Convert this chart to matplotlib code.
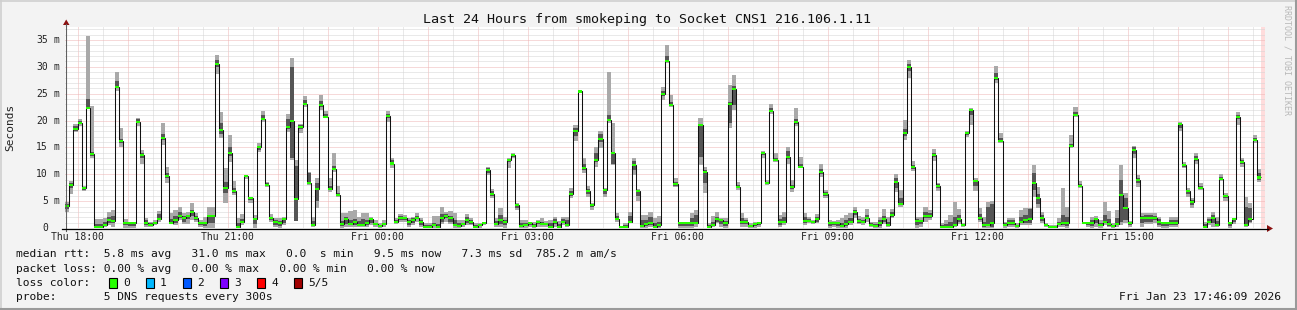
import numpy as np
import matplotlib
matplotlib.use("Agg")
import matplotlib.pyplot as plt
from matplotlib.transforms import Affine2D, blended_transform_factory
from matplotlib.lines import Line2D
from matplotlib.patches import Polygon, Rectangle

nan = np.nan

# 288 samples, 5 minutes apart, starting Thu 17:45 (hours since Thu 00:00)
start_hour = 17.75
step_hours = 5 / 60

# median rtt in ms
median = [4.1, 8.0, 18.4, 19.6, 7.4, 22.4, 13.8, 0.25, 0.2, 0.6,
          1.5, 1.3, 26.3, 16.2, 0.9, 0.9, 0.9, 19.8, 13.5, 0.9,
          0.6, 0.9, 1.6, 16.8, 9.7, 0.9, 1.5, 2.3, 1.8, 2.2,
          3.0, 1.8, 0.9, 0.9, 2.3, 2.3, 30.5, 18.2, 7.5, 14.0,
          6.8, 0.25, 1.2, 9.7, 5.6, 1.7, 15.0, 20.2, 8.0, 1.9,
          1.2, 1.0, 1.6, 18.8, 19.9, 5.4, 18.8, 23.1, 8.3, 0.6,
          7.2, 22.9, 20.7, 7.2, 11.0, 6.1, 0.7, 1.6, 0.7, 1.2,
          0.6, 0.6, 1.0, 1.6, 0.7, 0.4, 0.7, 20.9, 12.0, 1.2,
          1.9, 1.9, 1.2, 1.5, 1.9, 1.2, 0.2, 0.2, 0.6, 0.25,
          1.9, 2.3, 1.9, 0.6, 0.4, 0.7, 1.5, 1.2, 0.2, 0.6,
          0.9, 10.8, 6.4, 0.7, 1.5, 1.2, 12.7, 13.6, 4.3, 0.4,
          0.6, 0.9, 0.4, 1.2, 0.8, 0.7, 0.25, 1.2, 0.25, 1.2,
          0.6, 6.3, 18.1, 25.4, 11.2, 6.8, 4.3, 12.7, 16.6, 7.0,
          20.1, 14.0, 1.7, 0.1, 0.25, 1.2, 11.7, 6.9, 0.4, 0.7,
          1.0, 0.25, 0.6, 24.9, 31.0, 22.8, 8.1, 0.9, 0.9, 0.9,
          0.9, 0.9, 19.2, 10.5, 0.25, 0.6, 1.6, 1.5, 1.0, 23.1,
          25.8, 7.7, 1.2, 1.2, 0.4, 0.7, 0.9, 14.0, 8.3, 21.8,
          12.7, 1.2, 1.2, 13.3, 7.6, 19.8, 11.4, 1.3, 1.3, 1.1,
          1.6, 10.5, 6.4, 0.9, 0.9, 0.9, 0.3, 0.7, 1.2, 2.9,
          1.3, 1.2, 1.9, 0.6, 0.4, 0.9, 1.6, 0.6, 2.4, 8.6,
          4.5, 17.6, 29.9, 11.3, 1.3, 1.3, 2.2, 2.2, 13.6, 7.9,
          0.25, 0.25, 0.25, 0.6, 1.6, 0.6, 17.6, 22.0, 8.8, 1.9,
          0.6, 0.6, 1.0, 27.9, 16.2, 0.6, 0.9, 0.9, 0.4, 1.2,
          1.5, 1.6, 8.4, 5.5, 1.9, 0.6, 0.25, 0.25, 0.7, 1.0,
          1.0, 15.3, 21.0, 7.9, 1.0, 0.9, 0.9, 1.6, 0.6, 1.2,
          0.7, 0.4, 0.7, 6.1, 3.8, 1.0, 14.5, 8.9, 1.9, 1.9,
          1.9, 1.9, 1.2, 0.9, 0.9, 0.9, 0.9, 19.3, 11.7, 6.8,
          4.9, 12.8, 7.5, 0.25, 1.2, 1.9, 0.6, 9.1, 6.0, 1.0,
          1.6, 20.7, 12.2, 0.6, 1.6, 16.3, 9.4, nan]

# smoke: fastest ping
ping_min = [2.9, 6.4, 17.8, 18.9, 6.8, 22.3, 13.1, 0.06, 0.06, 0.25,
            0.56, 0.25, 25.4, 15.1, 0.06, 0.06, 0.06, 18.9, 12.0, 0.25,
            0.25, 0.56, 1.2, 15.5, 8.3, 0.75, 0.56, 1.5, 0.7, 0.7,
            1.49, 1.18, 0.25, 0.06, 0.06, 0.06, 28.6, 16.7, 4.6, 12.35,
            6.1, 0.06, 0.56, 9.2, 4.6, 0.06, 14.2, 19.8, 7.7, 1.18,
            0.25, 0.06, 0.56, 17.9, 12.7, 1.3, 17.6, 22.6, 8.0, 0.25,
            3.8, 22.0, 20.4, 6.77, 10.5, 5.8, 0.06, 0.25, 0.25, 0.25,
            0.25, 0.25, 0.25, 0.56, 0.25, 0.06, 0.25, 19.8, 11.2, 0.7,
            1.18, 1.18, 0.25, 0.56, 1.18, 0.25, 0.06, 0.06, 0.06, 0.06,
            0.7, 1.18, 0.7, 0.06, 0.06, 0.25, 0.56, 0.56, 0.06, 0.06,
            0.56, 9.87, 5.5, 0.25, 0.25, 0.06, 11.1, 13.1, 3.35, 0.06,
            0.06, 0.25, 0.06, 0.25, 0.25, 0.25, 0.06, 0.25, 0.06, 0.56,
            0.25, 5.5, 16.1, 25.1, 10.2, 5.8, 3.35, 11.4, 14.9, 5.8,
            19.5, 11.7, 1.18, 0.06, 0.06, 0.87, 9.9, 5.0, 0.06, 0.06,
            0.25, 0.06, 0.06, 23.8, 30.7, 22.6, 7.7, 0.06, 0.06, 0.06,
            0.06, 0.25, 11.7, 6.45, 0.06, 0.25, 0.87, 0.25, 0.06, 18.6,
            22.0, 7.1, 0.25, 0.25, 0.06, 0.06, 0.25, 13.0, 8.0, 21.2,
            12.35, 0.25, 0.56, 12.0, 6.77, 18.9, 11.1, 0.56, 0.87, 0.7,
            0.87, 9.4, 5.5, 0.06, 0.25, 0.06, 0.06, 0.06, 0.56, 1.8,
            0.7, 0.56, 1.18, 0.25, 0.06, 0.06, 0.7, 0.25, 1.8, 6.77,
            4.0, 16.4, 27.9, 10.6, 0.06, 0.25, 1.18, 1.49, 12.5, 6.9,
            0.06, 0.06, 0.06, 0.25, 0.7, 0.25, 17.0, 19.2, 6.9, 1.18,
            0.06, 0.06, 0.06, 27.0, 15.8, 0.06, 0.25, 0.25, 0.06, 0.56,
            0.56, 0.56, 5.8, 3.8, 0.87, 0.25, 0.06, 0.06, 0.25, 0.25,
            0.06, 14.9, 20.7, 7.5, 0.7, 0.25, 0.06, 0.25, 0.06, 0.56,
            0.25, 0.06, 0.25, 0.56, 0.87, 0.25, 13.0, 7.7, 0.25, 0.7,
            0.7, 0.87, 0.25, 0.06, 0.06, 0.25, 0.25, 18.1, 11.1, 5.8,
            3.8, 12.0, 7.1, 0.06, 0.56, 0.25, 0.25, 8.7, 5.0, 0.06,
            0.7, 19.2, 11.4, 0.25, 0.87, 15.8, 8.5, nan]

# smoke: 2nd ping
ping_lo = [3.6, 7.5, 18.1, 19.3, 7.1, 22.4, 13.4, 0.1, 0.1, 0.4,
           1.0, 0.9, 26.0, 15.8, 0.5, 0.4, 0.4, 19.5, 13.0, 0.5,
           0.4, 0.7, 1.4, 16.4, 9.3, 0.8, 0.9, 1.8, 1.2, 1.6,
           2.2, 1.4, 0.5, 0.3, 1.0, 1.0, 30.0, 17.5, 6.5, 13.4,
           6.6, 0.1, 0.9, 9.4, 5.2, 0.8, 14.6, 20.1, 7.8, 1.5,
           0.6, 0.4, 1.0, 18.4, 13.0, 1.3, 18.4, 22.9, 8.2, 0.3,
           5.0, 22.5, 20.5, 7.0, 10.8, 6.0, 0.4, 0.8, 0.5, 0.6,
           0.4, 0.5, 0.6, 1.0, 0.5, 0.2, 0.5, 20.4, 11.8, 1.0,
           1.5, 1.5, 0.6, 1.0, 1.6, 0.6, 0.1, 0.1, 0.3, 0.2,
           1.2, 1.8, 1.2, 0.3, 0.2, 0.5, 1.0, 0.8, 0.1, 0.3,
           0.8, 10.3, 6.0, 0.5, 0.8, 0.5, 12.2, 13.3, 3.8, 0.2,
           0.3, 0.6, 0.2, 0.8, 0.5, 0.5, 0.15, 0.7, 0.15, 0.9,
           0.4, 6.0, 17.2, 25.2, 10.7, 6.3, 3.9, 12.2, 16.0, 6.3,
           20.1, 12.0, 1.4, 0.06, 0.1, 1.0, 10.8, 6.0, 0.2, 0.3,
           0.6, 0.1, 0.2, 24.5, 30.9, 22.7, 7.9, 0.3, 0.3, 0.3,
           0.4, 0.7, 13.3, 8.3, 0.1, 0.4, 1.2, 0.8, 0.4, 19.5,
           22.8, 7.4, 0.8, 0.7, 0.2, 0.3, 0.6, 13.6, 8.1, 21.5,
           12.5, 0.6, 0.9, 12.8, 7.2, 19.4, 11.3, 1.0, 1.1, 0.9,
           1.2, 10.0, 6.0, 0.4, 0.6, 0.4, 0.2, 0.4, 0.9, 2.4,
           1.0, 0.9, 1.6, 0.4, 0.2, 0.4, 1.2, 0.5, 2.1, 7.5,
           4.3, 17.2, 29.2, 11.0, 0.6, 0.7, 1.8, 1.9, 13.2, 7.5,
           0.1, 0.1, 0.1, 0.4, 1.2, 0.4, 17.3, 21.0, 7.8, 1.5,
           0.2, 0.56, 0.25, 27.5, 16.0, 0.3, 0.6, 0.6, 0.2, 0.9,
           1.0, 1.0, 7.0, 4.5, 1.3, 0.4, 0.1, 0.1, 0.5, 0.6,
           0.3, 15.1, 20.9, 7.7, 0.9, 0.5, 0.3, 0.9, 0.3, 0.9,
           0.4, 0.2, 0.5, 1.2, 1.5, 0.6, 13.8, 8.3, 1.0, 1.2,
           1.2, 1.4, 0.6, 0.3, 0.3, 0.5, 0.5, 18.6, 11.4, 6.3,
           4.3, 12.4, 7.3, 0.15, 0.9, 1.0, 0.4, 8.9, 5.6, 0.4,
           1.2, 20.2, 11.9, 0.5, 1.2, 16.1, 9.0, nan]

# smoke: 4th ping
ping_hi = [4.4, 8.3, 18.9, 20.0, 7.6, 24.0, 14.2, 0.8, 0.8, 1.2,
           2.0, 2.2, 27.4, 16.6, 1.2, 1.0, 1.0, 20.3, 14.0, 1.4,
           0.9, 1.2, 2.6, 17.5, 10.2, 1.6, 2.2, 2.9, 2.2, 2.5,
           3.3, 2.2, 1.1, 1.2, 2.5, 2.5, 31.3, 19.5, 8.5, 15.0,
           7.5, 1.0, 1.6, 9.9, 5.8, 1.9, 15.3, 21.0, 8.3, 2.1,
           1.5, 1.3, 1.8, 20.2, 30.0, 11.5, 19.1, 23.8, 10.2, 1.3,
           8.4, 23.6, 21.2, 7.8, 11.5, 6.5, 1.3, 2.0, 1.5, 1.6,
           1.3, 1.6, 1.4, 1.9, 1.0, 0.6, 1.0, 21.2, 12.6, 1.5,
           2.2, 2.1, 1.5, 1.9, 2.3, 1.5, 0.5, 0.5, 1.0, 0.8,
           2.6, 2.6, 2.3, 1.4, 0.9, 1.0, 2.0, 1.4, 0.5, 0.7,
           1.0, 11.1, 6.8, 1.3, 2.5, 1.5, 12.9, 13.8, 4.5, 0.9,
           1.0, 1.0, 0.8, 1.3, 1.2, 1.0, 1.0, 1.6, 0.8, 1.6,
           1.4, 6.8, 18.6, 25.6, 12.0, 7.2, 4.5, 14.0, 17.5, 7.2,
           21.0, 14.2, 2.2, 0.2, 0.6, 2.2, 12.4, 7.1, 1.4, 1.4,
           2.0, 1.0, 1.2, 25.4, 32.0, 23.5, 8.6, 1.0, 1.0, 1.0,
           1.8, 2.4, 19.2, 10.8, 0.6, 1.2, 2.1, 1.7, 1.3, 23.5,
           26.5, 8.0, 1.8, 1.4, 0.6, 0.9, 1.0, 14.1, 8.5, 22.4,
           13.0, 1.6, 2.0, 14.4, 8.0, 20.3, 12.0, 2.0, 1.6, 1.3,
           2.0, 11.0, 6.7, 1.1, 1.1, 1.2, 1.0, 1.5, 1.8, 3.3,
           1.7, 1.5, 2.4, 0.9, 0.8, 1.4, 2.2, 1.2, 2.9, 9.3,
           5.5, 18.4, 30.6, 11.8, 1.6, 1.5, 3.0, 2.8, 14.0, 8.1,
           0.5, 0.8, 1.2, 2.0, 2.4, 0.7, 17.8, 22.2, 9.0, 2.6,
           1.2, 3.97, 4.5, 28.8, 16.8, 0.9, 1.4, 1.4, 0.6, 2.0,
           2.5, 3.6, 10.2, 6.4, 2.4, 0.7, 0.4, 0.4, 1.2, 2.5,
           2.0, 15.6, 21.6, 8.2, 1.1, 1.0, 1.4, 1.9, 1.0, 2.4,
           1.6, 0.6, 1.8, 8.9, 5.5, 1.2, 15.0, 9.3, 2.2, 2.4,
           2.4, 2.3, 1.6, 1.0, 1.0, 1.4, 1.4, 19.6, 11.9, 7.1,
           5.2, 13.4, 7.9, 0.7, 1.6, 2.4, 1.3, 9.5, 6.2, 1.1,
           1.7, 21.0, 12.6, 4.0, 3.8, 16.8, 10.2, nan]

# smoke: slowest ping
ping_max = [4.9, 8.7, 19.3, 20.2, 7.9, 35.8, 22.7, 1.7, 1.6, 1.9,
            3.0, 3.4, 29.1, 18.7, 1.7, 1.2, 1.2, 20.4, 14.5, 1.9,
            1.2, 1.5, 3.1, 19.5, 11.4, 2.7, 3.4, 3.97, 2.73, 3.04,
            4.6, 2.73, 1.49, 2.1, 3.97, 3.97, 32.2, 21.5, 11.1, 17.3,
            8.7, 1.9, 2.6, 9.9, 5.8, 2.4, 15.8, 21.8, 8.6, 2.6,
            1.8, 1.8, 2.1, 21.2, 31.7, 12.7, 19.3, 24.5, 10.5, 2.1,
            9.3, 24.8, 21.8, 9.3, 13.9, 7.8, 2.73, 2.73, 3.2, 3.3,
            2.1, 2.73, 2.73, 2.1, 1.49, 0.87, 1.49, 21.8, 13.1, 1.8,
            2.6, 2.4, 1.8, 2.1, 2.73, 1.8, 0.87, 0.87, 2.3, 2.3,
            3.97, 3.04, 3.2, 2.73, 1.49, 1.49, 2.6, 1.8, 0.87, 0.87,
            1.18, 11.4, 7.3, 1.9, 3.7, 2.1, 13.0, 13.9, 4.6, 1.49,
            1.49, 1.18, 1.18, 1.49, 1.8, 1.3, 1.49, 2.1, 1.3, 2.1,
            2.1, 7.4, 19.2, 25.7, 13.0, 7.8, 4.6, 15.0, 18.1, 7.4,
            29.1, 19.5, 2.73, 0.3, 0.87, 3.04, 13.1, 7.3, 2.4, 2.4,
            3.04, 1.9, 2.3, 26.3, 34.0, 24.8, 9.25, 1.18, 1.18, 1.18,
            2.73, 3.35, 20.4, 11.4, 0.87, 2.3, 2.9, 1.9, 1.8, 26.6,
            28.4, 8.6, 2.73, 1.8, 0.87, 1.18, 1.18, 14.3, 8.9, 23.0,
            13.9, 2.4, 3.04, 15.1, 8.9, 22.3, 13.3, 2.73, 2.1, 1.49,
            2.6, 12.0, 7.1, 1.49, 1.3, 1.49, 1.8, 2.4, 2.73, 3.97,
            2.25, 2.1, 3.5, 1.18, 1.18, 2.1, 3.5, 2.1, 3.5, 10.0,
            7.1, 20.1, 31.3, 12.4, 2.1, 2.1, 3.97, 3.35, 14.7, 8.3,
            0.87, 1.49, 2.5, 4.9, 3.5, 0.87, 18.1, 22.4, 9.25, 3.66,
            2.1, 4.9, 5.0, 30.2, 17.6, 1.18, 1.9, 1.9, 0.87, 3.35,
            3.66, 3.8, 11.7, 7.6, 3.04, 0.87, 0.56, 0.56, 1.8, 7.4,
            3.97, 17.3, 22.6, 8.8, 1.18, 1.18, 2.1, 2.3, 1.49, 4.9,
            3.2, 0.87, 3.35, 11.7, 6.45, 1.3, 15.3, 9.9, 2.73, 2.85,
            2.85, 2.73, 2.1, 1.18, 1.18, 2.1, 2.1, 19.8, 12.2, 7.4,
            5.6, 13.9, 8.3, 1.18, 2.1, 3.04, 2.1, 10.0, 6.45, 1.18,
            1.8, 21.5, 13.0, 5.7, 4.6, 17.3, 10.9, nan]

tick_hours = [18, 21, 24, 27, 30, 33, 36, 39]
tick_labels = ["Thu 18:00", "Thu 21:00", "Fri 00:00", "Fri 03:00",
               "Fri 06:00", "Fri 09:00", "Fri 12:00", "Fri 15:00"]
y_ticks = [0, 5, 10, 15, 20, 25, 30, 35]

loss_names = ["0", "1", "2", "3", "4", "5/5"]
loss_colors = ["#26ff00", "#00b8ff", "#0059ff", "#7e00ff", "#ff0000", "#a10000"]

title = "Last 24 Hours from smokeping to Socket CNS1 216.106.1.11"
legend_lines = [
    "median rtt:  5.8 ms avg   31.0 ms max   0.0  s min   9.5 ms now   7.3 ms sd  785.2 m am/s",
    "packet loss: 0.00 % avg   0.00 % max   0.00 % min   0.00 % now",
    "loss color:",
    "probe:       5 DNS requests every 300s",
]
stamp = "Fri Jan 23 17:46:09 2026"

# ------------------------------------------------------------------
W, H = 1297, 310
MONO = "DejaVu Sans Mono"
plt.rcParams["lines.scale_dashes"] = False
fig = plt.figure(figsize=(W / 100, H / 100), dpi=100, facecolor="#f3f3f3")
px = Affine2D().scale(1.0 / W, -1.0 / H).translate(0, 1) + fig.transFigure

left, right, top, bottom = 65, 1265, 27, 228
ax = fig.add_axes([left / W, 1 - bottom / H, (right - left) / W, (bottom - top) / H])
ax.set_facecolor("white")
ax.set_xlim(start_hour, start_hour + 24)
ax.set_ylim(0, 37.4)
for s in ax.spines.values():
    s.set_visible(False)
ax.set_xticks([])
ax.set_yticks([])

med = np.array(median)
lo_min = np.array(ping_min)
lo2 = np.array(ping_lo)
hi4 = np.array(ping_hi)
hi_max = np.array(ping_max)
t = start_hour + np.arange(len(med)) * step_hours
ok = ~np.isnan(med)

# unknown (no data yet) strip
for i in np.where(~ok)[0]:
    ax.axvspan(t[i], t[i] + step_hours, color="#ffdcdc", lw=0, zorder=0.5)

# dotted grid
dots = (0, (0.72, 0.72))
for h in np.arange(18, 42, 0.5):
    major = float(h).is_integer()
    ax.axvline(h, color="#eeb4b4" if major else "#d4d4d4", lw=0.72,
               ls=dots, zorder=1)
for v in range(1, 38):
    ax.axhline(v, color="#eeb4b4" if v % 5 == 0 else "#d4d4d4", lw=0.72,
               ls=dots, zorder=1)

# smoke
ax.bar(t[ok], hi_max[ok] - lo_min[ok], bottom=lo_min[ok], width=step_hours,
       align="edge", color="#a9a9a9", lw=0, zorder=2)
ax.bar(t[ok], hi4[ok] - lo2[ok], bottom=lo2[ok], width=step_hours,
       align="edge", color="#555555", lw=0, zorder=2.1)

# median line + loss coloured marks
edges = np.append(t[ok], t[ok][-1] + step_hours)
ax.stairs(med[ok], edges, baseline=None, color="#111111", lw=0.75, zorder=3)
ax.bar(t[ok], 0.38, bottom=med[ok] - 0.19, width=step_hours, align="edge",
       color=loss_colors[0], lw=0, zorder=4)

# axes lines and arrows
fig.add_artist(Line2D([66, 66], [231, 24], transform=px, color="#606060", lw=0.8))
fig.add_artist(Line2D([62, 1268], [228.5, 228.5], transform=px, color="#000000", lw=0.9))
fig.add_artist(Polygon([[63, 25], [69.5, 25], [66.2, 19.5]], closed=True,
                       transform=px, color="#8b1010", lw=0))
fig.add_artist(Polygon([[1267, 225], [1267, 232], [1273, 228.5]], closed=True,
                       transform=px, color="#8b1010", lw=0))

# y tick labels
ty = blended_transform_factory(px, ax.transData)
for v in y_ticks:
    fig.text(48, v, str(v), transform=ty, ha="right", va="center",
             family=MONO, fontsize=7, color="#222222")
    if v:
        fig.text(53.5, v, "m", transform=ty, ha="left", va="center",
                 family=MONO, fontsize=7, color="#222222")

# x tick labels
tx = blended_transform_factory(ax.transData, px)
for h, lab in zip(tick_hours, tick_labels):
    fig.text(h, 237.5, lab, transform=tx, ha="center", va="center",
             family=MONO, fontsize=7, color="#222222")

# titles
fig.text(647, 19, title, transform=px, ha="center", va="center",
         family=MONO, fontsize=9.6, color="#111111")
fig.text(10, 127, "Seconds", transform=px, ha="center", va="center",
         rotation=90, family=MONO, fontsize=8, color="#222222")
fig.text(1287, 60, "RRDTOOL / TOBI OETIKER", transform=px, ha="center",
         va="center", rotation=-90, family=MONO, fontsize=6, color="#b8b8b8")

# legend
line_y = [254, 268.5, 283, 297]
for y, s in zip(line_y, legend_lines):
    fig.text(16, y, s, transform=px, ha="left", va="center",
             family=MONO, fontsize=8.1, color="#111111")
for k, (name, col) in enumerate(zip(loss_names, loss_colors)):
    x0 = 109 + 37 * k
    fig.add_artist(Rectangle((x0, 278), 7.5, 9.5, transform=px,
                             facecolor=col, edgecolor="#000000", lw=0.8))
    fig.text(x0 + 14, 283, name, transform=px, ha="left", va="center",
             family=MONO, fontsize=8.1, color="#111111")
fig.text(1281, 297, stamp, transform=px, ha="right", va="center",
         family=MONO, fontsize=8.1, color="#111111")

# frame
fig.add_artist(Line2D([0, W], [0.5, 0.5], transform=px, color="#cfcfcf", lw=1.2))
fig.add_artist(Line2D([0.5, 0.5], [0, H], transform=px, color="#cfcfcf", lw=1.2))
fig.add_artist(Line2D([0, W], [H - 1, H - 1], transform=px, color="#9a9a9a", lw=1.5))
fig.add_artist(Line2D([W - 1, W - 1], [0, H], transform=px, color="#9a9a9a", lw=1.5))

fig.savefig("out.png", dpi=100, facecolor=fig.get_facecolor())
